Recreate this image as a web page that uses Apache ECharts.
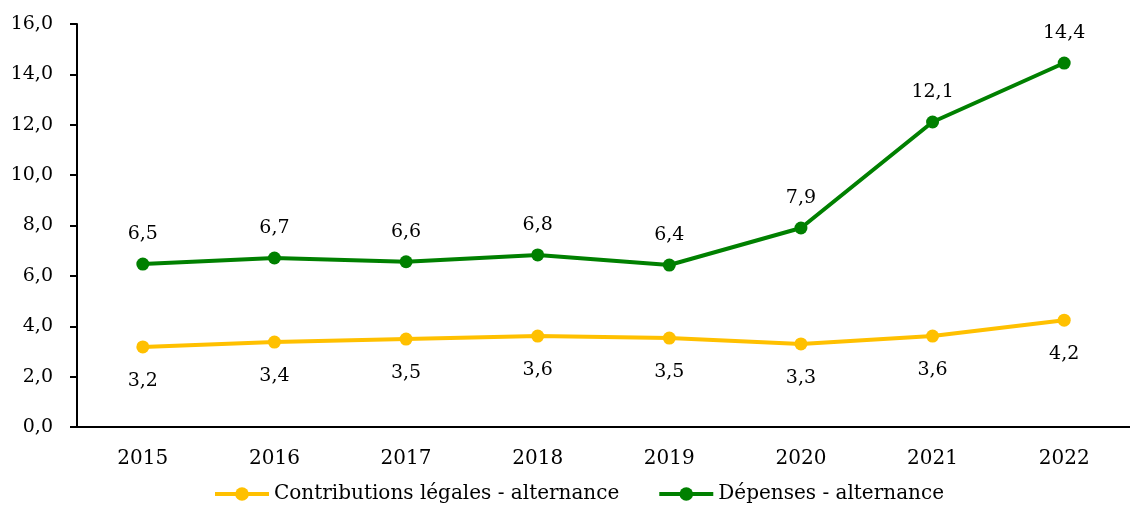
<!DOCTYPE html>
<html lang="fr">
<head>
  <meta charset="UTF-8">
  <title>Contributions et dépenses - alternance</title>
  <style>
    html, body { margin: 0; padding: 0; background: #fff; }
    #chart { width: 1130px; height: 507px; }
  </style>
</head>
<body>
  <div id="chart"></div>
  <script src="https://cdn.jsdelivr.net/npm/echarts@6/dist/echarts.min.js"></script>
  <script>
    const years = ['2015', '2016', '2017', '2018', '2019', '2020', '2021', '2022'];
    const contributions = [3.18, 3.37, 3.49, 3.61, 3.53, 3.30, 3.61, 4.24];
    const depenses = [6.47, 6.71, 6.56, 6.83, 6.43, 7.90, 12.11, 14.45];

    const font = 'DejaVu Serif';
    const fmt = (v) => v.toFixed(1).replace('.', ',');

    const chart = echarts.init(document.getElementById('chart'));
    chart.setOption({
      animation: false,
      textStyle: { fontFamily: font },
      grid: { left: 77, top: 24, right: 0, bottom: 80 },
      legend: {
        bottom: -2,
        left: 208,
        itemWidth: 54,
        itemHeight: 17,
        itemGap: 38,
        lineStyle: { width: 4 },
        textStyle: { fontFamily: font, fontSize: 20, color: '#000' },
        data: ['Contributions légales - alternance', 'Dépenses - alternance']
      },
      xAxis: {
        type: 'category',
        data: years,
        axisLine: { lineStyle: { color: '#000', width: 2 } },
        axisTick: { show: false },
        axisLabel: { color: '#000', fontSize: 20, margin: 22, fontFamily: font }
      },
      yAxis: {
        type: 'value',
        min: 0,
        max: 16,
        interval: 2,
        axisLine: { show: true, lineStyle: { color: '#000', width: 2 } },
        axisTick: { show: true, length: 7, lineStyle: { color: '#000', width: 2 } },
        splitLine: { show: false },
        axisLabel: { color: '#000', fontSize: 19, margin: 24, fontFamily: font, formatter: fmt }
      },
      series: [
        {
          name: 'Contributions légales - alternance',
          type: 'line',
          data: contributions,
          symbol: 'circle',
          symbolSize: 13,
          lineStyle: { color: '#FFC000', width: 4 },
          itemStyle: { color: '#FFC000' },
          label: {
            show: true, position: 'bottom', distance: 18,
            color: '#000', fontSize: 19, fontFamily: font,
            formatter: (p) => fmt(p.value)
          }
        },
        {
          name: 'Dépenses - alternance',
          type: 'line',
          data: depenses,
          symbol: 'circle',
          symbolSize: 13,
          lineStyle: { color: '#008000', width: 4 },
          itemStyle: { color: '#008000' },
          label: {
            show: true, position: 'top', distance: 14,
            color: '#000', fontSize: 19, fontFamily: font,
            formatter: (p) => fmt(p.value)
          }
        }
      ]
    });
  </script>
</body>
</html>
